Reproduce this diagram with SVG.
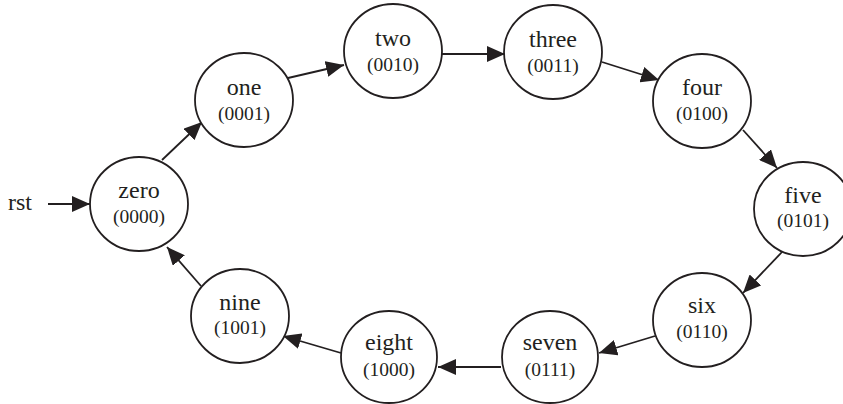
<svg xmlns="http://www.w3.org/2000/svg" width="843" height="404" viewBox="0 0 843 404">
<defs>
<style>
.n ellipse{fill:#fff;stroke:#231f20;stroke-width:1.8}
.t{font-family:"Liberation Serif","Times New Roman",serif;fill:#231f20;text-anchor:middle}
.a{font-size:24px}
.b{font-size:19.5px}
.e line{stroke:#231f20;stroke-width:1.8}
</style>
<marker id="ah" viewBox="0 0 18 16" refX="18" refY="8" markerWidth="18" markerHeight="16" markerUnits="userSpaceOnUse" orient="auto">
<path d="M0,0 L18,8 L0,16 Z" fill="#231f20"/>
</marker>
</defs>
<rect width="843" height="404" fill="#fff"/>
<g id="connectors" class="e">
<line x1="48" y1="204" x2="90" y2="204" marker-end="url(#ah)"/>
<line x1="162" y1="160" x2="202" y2="122" marker-end="url(#ah)"/>
<line x1="288" y1="78" x2="344" y2="65" marker-end="url(#ah)"/>
<line x1="442" y1="54" x2="505" y2="54" marker-end="url(#ah)"/>
<line x1="602" y1="62" x2="659" y2="80" marker-end="url(#ah)"/>
<line x1="743" y1="130" x2="777" y2="168" marker-end="url(#ah)"/>
<line x1="782" y1="252" x2="743" y2="293" marker-end="url(#ah)"/>
<line x1="655" y1="336" x2="599" y2="353" marker-end="url(#ah)"/>
<line x1="501" y1="367" x2="438" y2="367" marker-end="url(#ah)"/>
<line x1="341" y1="353" x2="283" y2="336" marker-end="url(#ah)"/>
<line x1="201" y1="286" x2="167" y2="247" marker-end="url(#ah)"/>
</g>
<g id="rst"><text class="t a" x="20" y="210">rst</text></g>
<g id="zero" class="n"><ellipse cx="139" cy="204" rx="49" ry="47"/><text class="t a" x="139" y="198">zero</text><text class="t b" x="139" y="223">(0000)</text></g>
<g id="one" class="n"><ellipse cx="244" cy="100" rx="49" ry="47"/><text class="t a" x="244" y="95">one</text><text class="t b" x="244" y="120">(0001)</text></g>
<g id="two" class="n"><ellipse cx="393" cy="51" rx="49" ry="47"/><text class="t a" x="393" y="46">two</text><text class="t b" x="393" y="71">(0010)</text></g>
<g id="three" class="n"><ellipse cx="553" cy="52" rx="49" ry="47"/><text class="t a" x="553" y="47">three</text><text class="t b" x="553" y="72">(0011)</text></g>
<g id="four" class="n"><ellipse cx="702" cy="101" rx="49" ry="47"/><text class="t a" x="702" y="95">four</text><text class="t b" x="702" y="120">(0100)</text></g>
<g id="five" class="n"><ellipse cx="803" cy="209" rx="49" ry="47"/><text class="t a" x="803" y="203">five</text><text class="t b" x="803" y="227">(0101)</text></g>
<g id="six" class="n"><ellipse cx="702" cy="320" rx="49" ry="47"/><text class="t a" x="702" y="313">six</text><text class="t b" x="702" y="338">(0110)</text></g>
<g id="seven" class="n"><ellipse cx="550" cy="357" rx="48" ry="46"/><text class="t a" x="550" y="350">seven</text><text class="t b" x="550" y="376">(0111)</text></g>
<g id="eight" class="n"><ellipse cx="389" cy="357" rx="48" ry="46"/><text class="t a" x="389" y="350">eight</text><text class="t b" x="389" y="376">(1000)</text></g>
<g id="nine" class="n"><ellipse cx="240" cy="316" rx="49" ry="47"/><text class="t a" x="240" y="310">nine</text><text class="t b" x="240" y="334">(1001)</text></g>
</svg>
